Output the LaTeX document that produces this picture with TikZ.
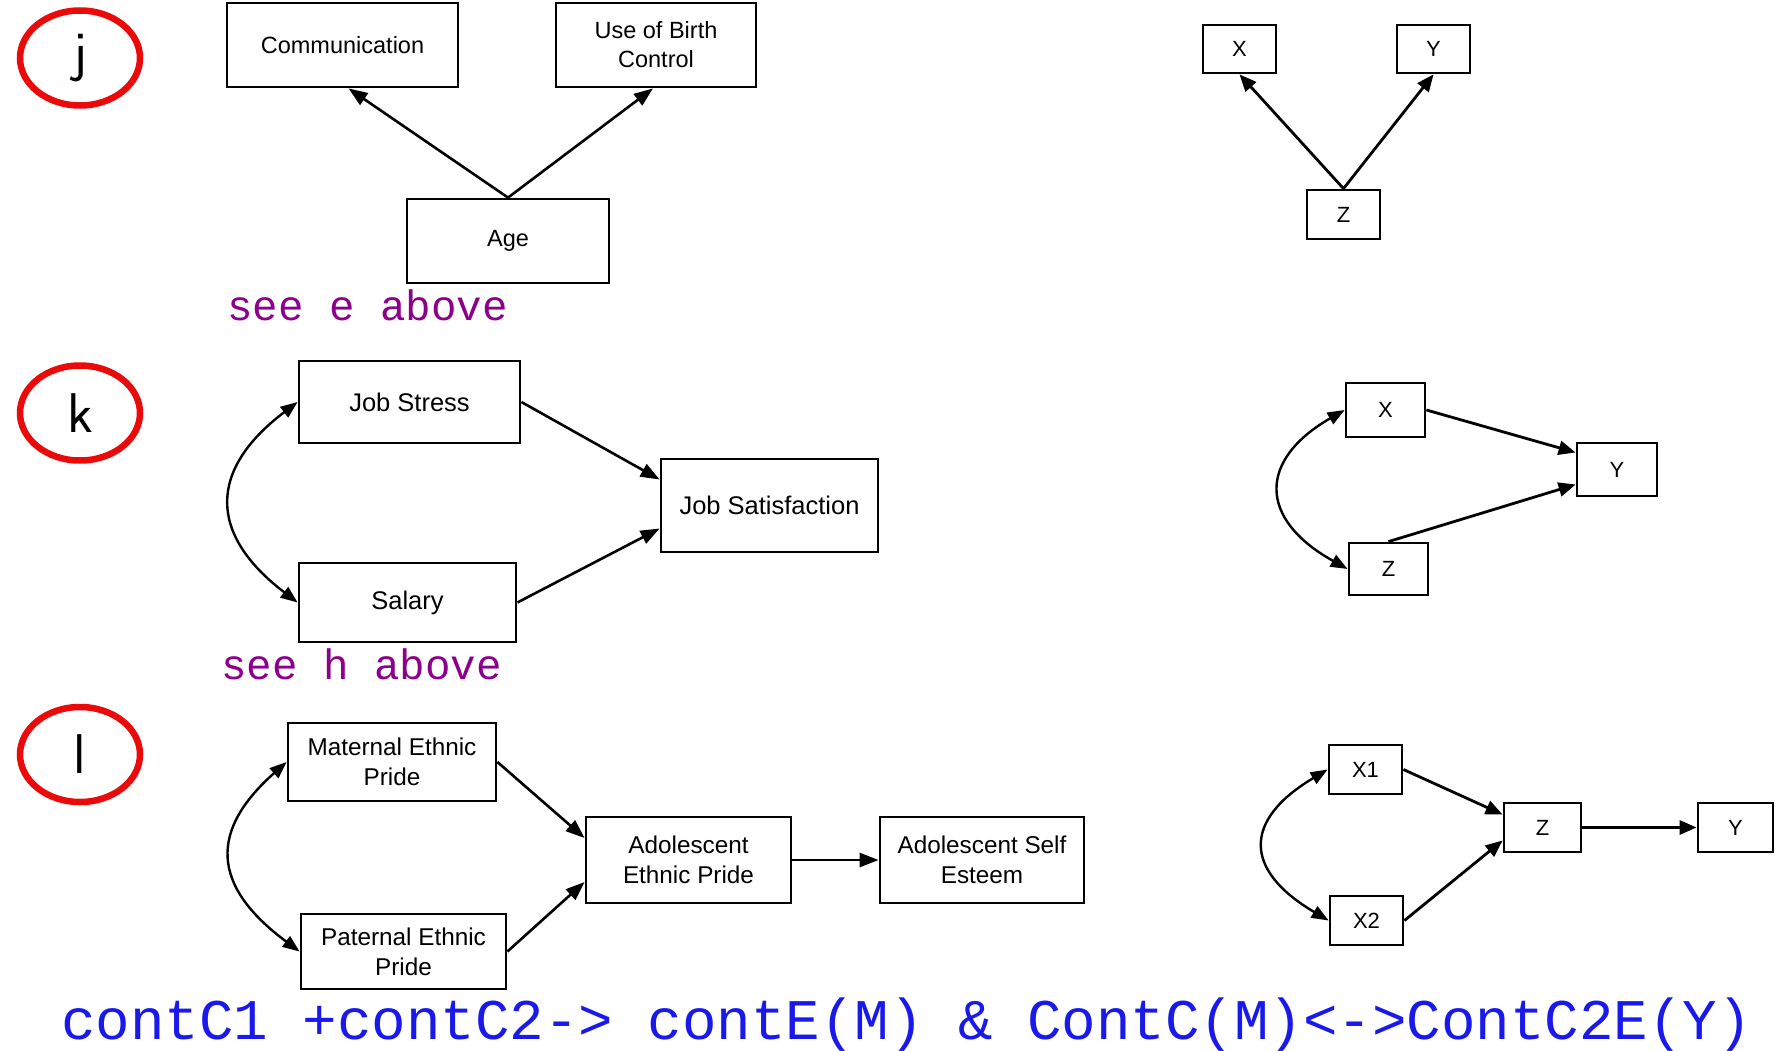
\documentclass[tikz,border=0pt]{standalone}
\usepackage{fontspec}
\setmainfont{Liberation Sans}
\newfontfamily\monofont{Liberation Mono}
\usetikzlibrary{arrows.meta,shapes.geometric}
\definecolor{tagred}{RGB}{235,10,10}
\definecolor{notepurple}{RGB}{140,0,140}
\definecolor{noteblue}{RGB}{25,25,235}
\begin{document}
\begin{tikzpicture}[x=1pt,y=-1pt,
  box/.style={draw, line width=2.8pt, inner sep=0pt, align=center},
  fj/.style={font=\fontsize{23.5}{29}\selectfont},
  fk/.style={font=\fontsize{25.5}{30}\selectfont},
  fl/.style={font=\fontsize{24.3}{30}\selectfont},
  fs/.style={font=\fontsize{22}{26}\selectfont},
  arr/.style={line width=2.6pt, -{Triangle[length=19pt,width=14pt]}},
  sarr/.style={line width=2.8pt, -{Triangle[length=17pt,width=14pt]}},
  darr/.style={line width=2.4pt, {Triangle[length=17pt,width=13pt]}-{Triangle[length=17pt,width=13pt]}},
  tag/.style={ellipse, draw=tagred, line width=6.5pt, minimum width=120pt, minimum height=95pt, inner sep=0pt,
    font=\sffamily\fontsize{56}{56}\selectfont},
  note/.style={anchor=base west, inner sep=0pt, font=\monofont\fontsize{42.5}{42.5}\selectfont, text=notepurple}
]
\useasboundingbox (0,0) rectangle (1787,1051);

% ---------- row j ----------
\node[tag] (tagj) at (80,58) {j};
\node[box,fj,minimum width=231pt,minimum height=84pt] (comm) at (342.5,45) {Communication};
\node[box,fj,minimum width=200pt,minimum height=84pt] (ubc) at (656,45) {Use of Birth\\Control};
\node[box,fj,minimum width=202pt,minimum height=84pt] (age) at (508,241) {Age};
\draw[arr] (age.north) -- ([xshift=6pt]comm.south);
\draw[arr] (age.north) -- ([xshift=-3pt]ubc.south);
\node[note] (seee) at (227,320) {see e above};

\node[box,fs,minimum width=73pt,minimum height=48pt] (jx) at (1239.5,49) {X};
\node[box,fs,minimum width=73pt,minimum height=48pt] (jy) at (1433.5,49) {Y};
\node[box,fs,minimum width=73pt,minimum height=49pt] (jz) at (1343.5,214.5) {Z};
\draw[sarr] (jz.north) -- (jx.south);
\draw[sarr] (jz.north) -- (jy.south);

% ---------- row k ----------
\node[tag] (tagk) at (80,413) {k};
\node[box,fk,minimum width=221pt,minimum height=82pt] (js) at (409.5,402) {Job Stress};
\node[box,fk,minimum width=217pt,minimum height=79pt] (sal) at (407.5,602.5) {Salary};
\node[box,fk,minimum width=217pt,minimum height=93pt] (jsat) at (769.5,505.5) {Job Satisfaction};
\draw[arr] (js.east) -- ([yshift=26pt]jsat.west);
\draw[arr] (sal.east) -- ([yshift=-23pt]jsat.west);
\draw[darr] (js.west) .. controls (208,470) and (208,534) .. (sal.west);
\node[note] (seeh) at (221,679) {see h above};

\node[box,fs,minimum width=79pt,minimum height=54pt] (kx) at (1385.5,410) {X};
\node[box,fs,minimum width=80pt,minimum height=53pt] (ky) at (1617,469.5) {Y};
\node[box,fs,minimum width=79pt,minimum height=52pt] (kz) at (1388.5,569) {Z};
\draw[sarr] (kx.east) -- ([yshift=17pt]ky.west);
\draw[sarr] (kz.north) -- ([yshift=-15pt]ky.west);
\draw[darr] (kx.west) .. controls (1258,460) and (1258,519) .. (kz.west);

% ---------- row l ----------
\node[tag] (tagl) at (80,754.5) {l};
\node[box,fl,minimum width=208pt,minimum height=78pt] (mat) at (392,762) {Maternal Ethnic\\Pride};
\node[box,fl,minimum width=205pt,minimum height=75pt] (pat) at (403.5,951.5) {Paternal Ethnic\\Pride};
\node[box,fl,minimum width=205pt,minimum height=86pt] (aep) at (688.5,860) {Adolescent\\Ethnic Pride};
\node[box,fl,minimum width=204pt,minimum height=86pt] (ase) at (982,860) {Adolescent Self\\Esteem};
\draw[arr] (mat.east) -- ([yshift=22pt]aep.west);
\draw[arr] (pat.east) -- ([yshift=-22pt]aep.west);
\draw[arr] (aep.east) -- (ase.west);
\draw[darr] (mat.west) .. controls (210,830) and (210,885) .. (pat.west);

\node[box,fs,minimum width=73pt,minimum height=49pt] (lx1) at (1365.5,769.5) {X1};
\node[box,fs,minimum width=73pt,minimum height=49pt] (lx2) at (1366.5,920.5) {X2};
\node[box,fs,minimum width=77pt,minimum height=49pt] (lz) at (1542.5,827.5) {Z};
\node[box,fs,minimum width=75pt,minimum height=49pt] (ly) at (1735.5,827.5) {Y};
\draw[sarr] (lx1.east) -- ([yshift=13pt]lz.west);
\draw[sarr] (lx2.east) -- ([yshift=-13pt]lz.west);
\draw[sarr] (lz.east) -- (ly.west);
\draw[darr] (lx1.west) .. controls (1243,820) and (1243,870) .. (lx2.west);

% ---------- bottom line ----------
\node[anchor=base west, inner sep=0pt, font=\monofont\fontsize{57.5}{57.5}\selectfont, text=noteblue] (formula) at (61,1039)
  {contC1 +contC2-> contE(M) \& ContC(M)<->ContC2E(Y)};
\end{tikzpicture}
\end{document}
